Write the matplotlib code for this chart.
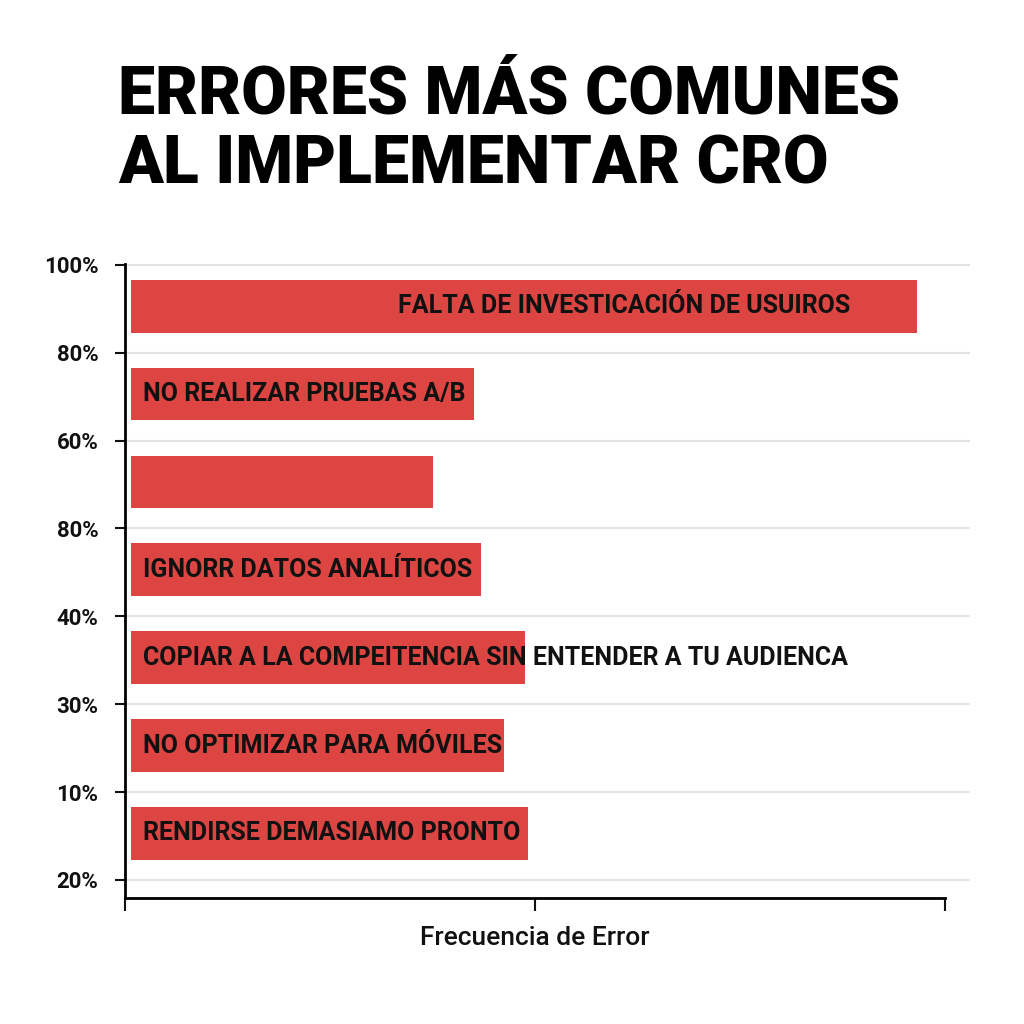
import matplotlib
matplotlib.use("Agg")
import matplotlib.pyplot as plt

# data
title = "ERRORES MÁS COMUNES\nAL IMPLEMENTAR CRO"
errores = [
    "FALTA DE INVESTICACIÓN DE USUIROS",
    "NO REALIZAR PRUEBAS A/B",
    "",
    "IGNORR DATOS ANALÍTICOS",
    "COPIAR A LA COMPEITENCIA SIN ENTENDER A TU AUDIENCA",
    "NO OPTIMIZAR PARA MÓVILES",
    "RENDIRSE DEMASIAMO PRONTO",
]
frecuencia = [96.6, 42.6, 37.6, 43.4, 48.7, 46.2, 49.1]
y_labels = ["100%", "80%", "60%", "80%", "40%", "30%", "10%", "20%"]
x_label = "Frecuencia de Error"

RED = "#dc4542"
font = ["Roboto", "DejaVu Sans"]

fig = plt.figure(figsize=(10.24, 10.24), dpi=100)
fig.patch.set_facecolor("white")

ax = fig.add_axes([125 / 1024, 1 - 898 / 1024, 845 / 1024, 634 / 1024])

# bars sit between the gridlines
bar_left = 0.75
ys = [i + 0.47 for i in range(len(frecuencia))]
ax.barh(ys, [v - bar_left for v in frecuencia], left=bar_left, height=0.6,
        color=RED, zorder=2)

for i, (lab, v) in enumerate(zip(errores, frecuencia)):
    if not lab:
        continue
    if i == 0:
        ax.text(v - 8.2, ys[i], lab, ha="right", va="center", fontsize=18,
                fontweight="bold", family=font, color="#111111", zorder=3)
    else:
        ax.text(2.2, ys[i], lab, ha="left", va="center", fontsize=18,
                fontweight="bold", family=font, color="#111111", zorder=3)

ax.set_xlim(0, 103)
ax.set_ylim(7.205, -0.01)
ax.set_yticks(range(len(y_labels)))
ax.set_yticklabels(y_labels, fontsize=16, fontweight="bold", family=font)
ax.set_xticks([0, 50, 100])
ax.set_xticklabels([])
ax.tick_params(axis="y", length=7, width=1.5, pad=12, colors="#111111")
ax.tick_params(axis="x", length=9, width=1.5, direction="out", colors="#111111")

ax.grid(axis="y", color="#e4e4e4", linewidth=1.5, zorder=0)
ax.set_axisbelow(True)
for s in ["top", "right"]:
    ax.spines[s].set_visible(False)
ax.spines["left"].set_linewidth(2)
ax.spines["bottom"].set_linewidth(2)
ax.spines["bottom"].set_bounds(0, 100)

ax.set_xlabel(x_label, fontsize=19, fontweight="medium", family=font,
              color="#111111", va="center")
ax.xaxis.set_label_coords((535 - 125) / 845, -40 / 634)

fig.text(118 / 1024, 1 - 183 / 1024, title, ha="left", va="baseline",
         fontsize=47.5, fontweight="black", family=font,
         linespacing=1.12, color="#000000")

fig.savefig("out.png", dpi=100, facecolor="white")
